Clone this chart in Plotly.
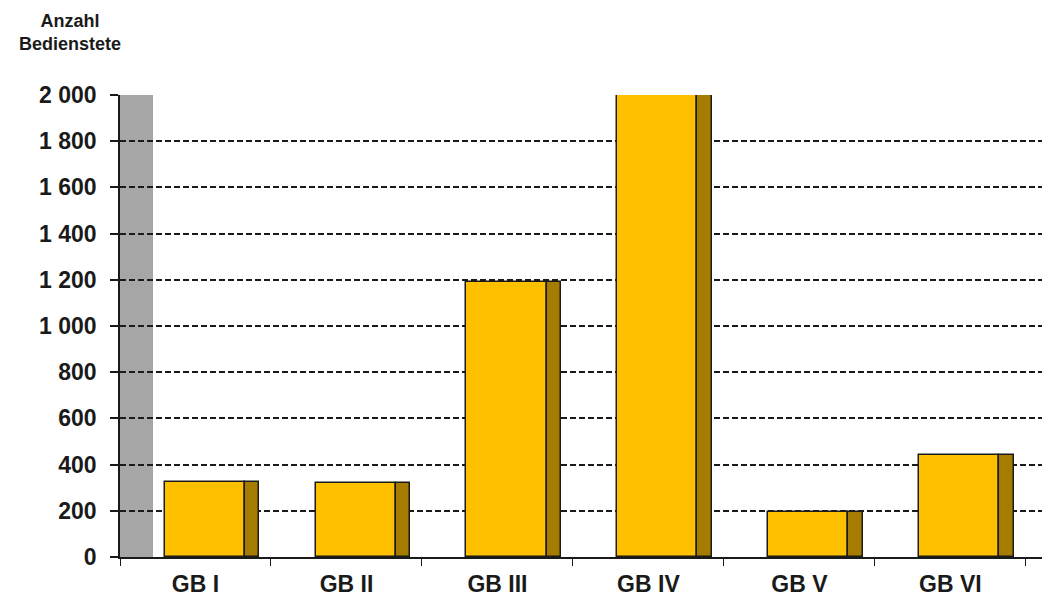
import plotly.graph_objects as go

categories = ["GB I", "GB II", "GB III", "GB IV", "GB V", "GB VI"]
values = [325, 320, 1190, 2000, 195, 440]
tick_vals = [0, 200, 400, 600, 800, 1000, 1200, 1400, 1600, 1800, 2000]
tick_text = ["0", "200", "400", "600", "800", "1 000", "1 200", "1 400", "1 600", "1 800", "2 000"]

FRONT = "#FFC000"
SIDE = "#A67C00"
EDGE = "#1a1a1a"
FONT = "Liberation Sans, Arial, sans-serif"

fig = go.Figure()
fig.add_trace(go.Bar(
    x=categories, y=values, offset=-0.205, width=0.53,
    marker=dict(color=FRONT, line=dict(color=EDGE, width=1.5)),
    showlegend=False, hoverinfo="x+y"))
fig.add_trace(go.Bar(
    x=categories, y=values, offset=0.325, width=0.095,
    marker=dict(color=SIDE, line=dict(color=EDGE, width=1.5)),
    showlegend=False, hoverinfo="skip"))

fig.add_shape(type="rect", xref="x domain", yref="y", x0=0, x1=0.0355,
              y0=0, y1=2000, fillcolor="#A6A6A6", line=dict(width=0), layer="below")

fig.update_layout(
    width=1042, height=592,
    margin=dict(l=112, r=0, t=87, b=43, autoexpand=False),
    paper_bgcolor="white", plot_bgcolor="white",
    barmode="overlay", bargap=0,
    font=dict(family=FONT, color="#1a1a1a"),
    xaxis=dict(
        type="category", range=[-0.5, 5.66], tickson="boundaries",
        ticks="outside", ticklen=7, tickcolor="#1a1a1a", tickwidth=1,
        showline=True, linecolor="#1a1a1a", linewidth=1.5,
        showgrid=False, automargin=False,
        tickfont=dict(size=23, family=FONT, weight="bold"),
        ticklabelstandoff=6,
    ),
    yaxis=dict(
        range=[0, 2000], tickvals=tick_vals, ticktext=tick_text,
        ticks="outside", ticklen=8, tickcolor="#1a1a1a", tickwidth=1.5,
        showline=True, linecolor="#1a1a1a", linewidth=1.5,
        showgrid=True, gridcolor="#1a1a1a", gridwidth=1.5, griddash="6px,3px",
        zeroline=False, automargin=False,
        tickfont=dict(size=23, family=FONT, weight="bold"),
        ticklabelstandoff=9,
    ),
    annotations=[dict(
        text="Anzahl<br>Bedienstete", xref="paper", yref="paper",
        x=-0.054, y=1.0, yshift=86, xanchor="center", yanchor="top",
        showarrow=False, align="center",
        font=dict(size=18, family=FONT, weight="bold"),
    )],
)

fig.write_html("out.html")
